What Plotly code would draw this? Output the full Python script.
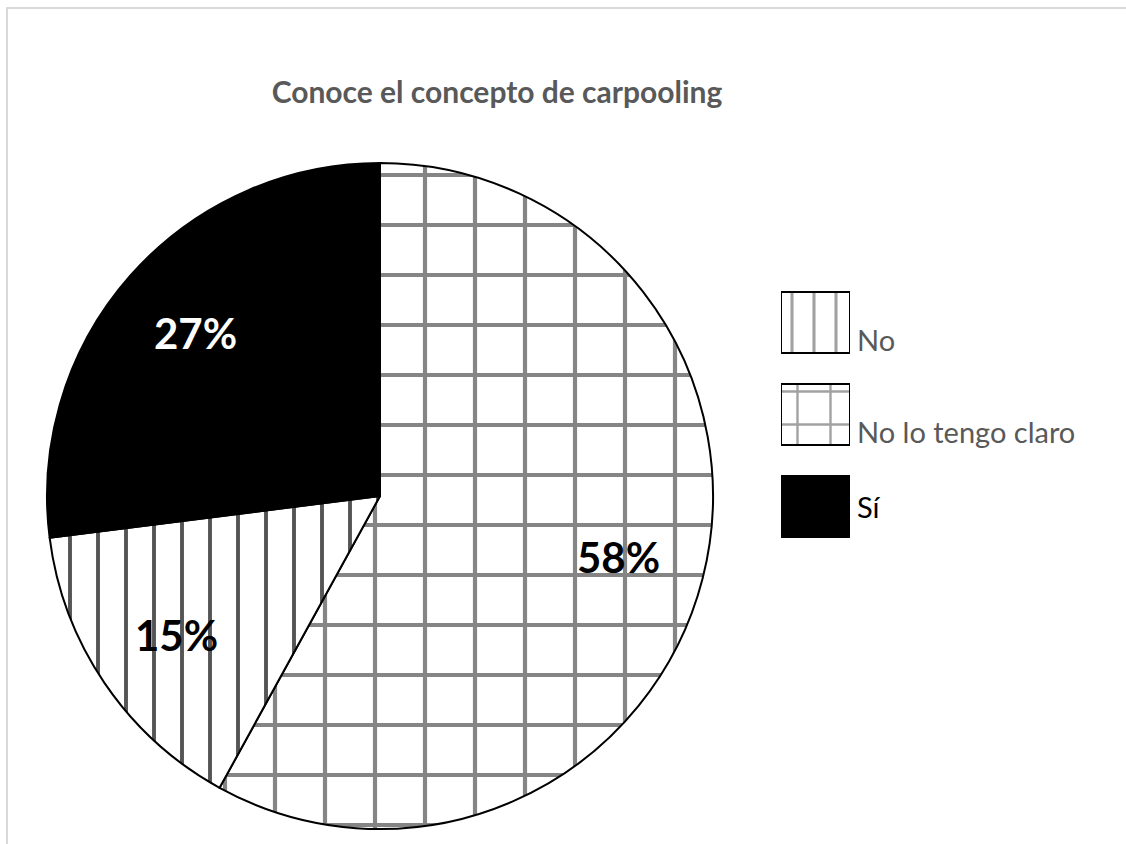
import math
import plotly.graph_objects as go

# Survey answers: "¿Conoce el concepto de carpooling?"
slice_labels = ["No lo tengo claro", "No", "Sí"]
slice_values = [58, 15, 27]

legend_labels = ["No", "No lo tengo claro", "Sí"]

W, H = 1126, 844

# fill style per answer: pattern shape, pattern size, line thickness, line colour, background
style = {
    "No":                {"shape": "|", "size": 28, "solidity": 0.14, "fg": "#555555", "bg": "white", "text": "black"},
    "No lo tengo claro": {"shape": "+", "size": 50, "solidity": 0.16, "fg": "#858585", "bg": "white", "text": "black"},
    "Sí":                {"shape": "",  "size": 10, "solidity": 0.3,  "fg": "black",   "bg": "black", "text": "white"},
}
legend_pattern_size = {"No": 22, "No lo tengo claro": 33, "Sí": 10}
legend_text_color = {"No": "#595959", "No lo tengo claro": "#595959", "Sí": "black"}

# pie box in pixels (left, top, right, bottom)
PIE_L, PIE_T, PIE_R, PIE_B = 47, 163, 713, 829
LABEL_RADIUS = 0.74  # data labels sit on the slice bisector at this fraction of the radius


def px_x(v):
    return v / W


def px_y(v):
    return 1 - v / H


fig = go.Figure()

fig.add_trace(go.Pie(
    labels=slice_labels,
    values=slice_values,
    sort=False,
    direction="clockwise",
    rotation=0,
    marker=dict(
        colors=[style[l]["bg"] for l in slice_labels],
        line=dict(color="black", width=2),
        pattern=dict(
            shape=[style[l]["shape"] for l in slice_labels],
            size=[style[l]["size"] for l in slice_labels],
            solidity=[style[l]["solidity"] for l in slice_labels],
            fgcolor=[style[l]["fg"] for l in slice_labels],
            bgcolor=[style[l]["bg"] for l in slice_labels],
        ),
    ),
    textinfo="none",
    showlegend=False,
    hoverinfo="skip",
    domain=dict(x=[px_x(PIE_L), px_x(PIE_R)], y=[px_y(PIE_B), px_y(PIE_T)]),
))

# percentage labels placed along each slice's bisector
cx, cy = (PIE_L + PIE_R) / 2, (PIE_T + PIE_B) / 2
radius = (PIE_R - PIE_L) / 2
total = sum(slice_values)
start = 0.0
for lab, val in zip(slice_labels, slice_values):
    mid = 2 * math.pi * (start + val / 2) / total
    start += val
    lx = cx + LABEL_RADIUS * radius * math.sin(mid)
    ly = cy - LABEL_RADIUS * radius * math.cos(mid)
    fig.add_annotation(
        x=px_x(lx), y=px_y(ly), xref="paper", yref="paper",
        text=f"<b>{round(100 * val / total)}%</b>", showarrow=False,
        xanchor="center", yanchor="middle",
        font=dict(family="Lato", size=42, color=style[lab]["text"]),
    )

# legend swatches drawn as patterned bars on a hidden axis
fig.add_trace(go.Bar(
    orientation="h",
    y=list(range(len(legend_labels))),
    x=[1] * len(legend_labels),
    width=0.66,
    marker=dict(
        color=[style[l]["bg"] for l in legend_labels],
        line=dict(color="black", width=2),
        pattern=dict(
            shape=[style[l]["shape"] for l in legend_labels],
            size=[legend_pattern_size[l] for l in legend_labels],
            solidity=[0.14 if style[l]["shape"] else 0.3 for l in legend_labels],
            fgcolor=[style[l]["fg"] for l in legend_labels],
            bgcolor=[style[l]["bg"] for l in legend_labels],
        ),
    ),
    showlegend=False,
    hoverinfo="skip",
))

for i, lab in enumerate(legend_labels):
    last = lab == "Sí"
    fig.add_annotation(
        x=1, y=i + (0 if last else 0.33), xref="x", yref="y",
        text=lab, showarrow=False,
        xanchor="left", yanchor="middle" if last else "bottom",
        xshift=5, yshift=0 if last else -6,
        font=dict(family="Lato", size=29, color=legend_text_color[lab]),
    )

fig.update_xaxes(domain=[px_x(781), px_x(850)], range=[0, 1], visible=False, fixedrange=True)
fig.update_yaxes(domain=[px_y(553), px_y(276)], range=[2.5, -0.5], visible=False, fixedrange=True)

# chart frame
fig.add_shape(type="rect", xref="paper", yref="paper",
              x0=px_x(7), y0=-0.05, x1=1.05, y1=px_y(8),
              line=dict(color="#d9d9d9", width=2), fillcolor="rgba(0,0,0,0)", layer="below")

fig.update_layout(
    width=W, height=H,
    margin=dict(l=0, r=0, t=0, b=0),
    paper_bgcolor="white",
    plot_bgcolor="rgba(0,0,0,0)",
    bargap=0,
    title=dict(
        text="<b>Conoce el concepto de carpooling</b>",
        x=px_x(497), xanchor="center", xref="paper",
        y=px_y(92), yanchor="middle", yref="paper",
        font=dict(family="Lato", size=30, color="#595959"),
    ),
)

fig.write_html("out.html")
